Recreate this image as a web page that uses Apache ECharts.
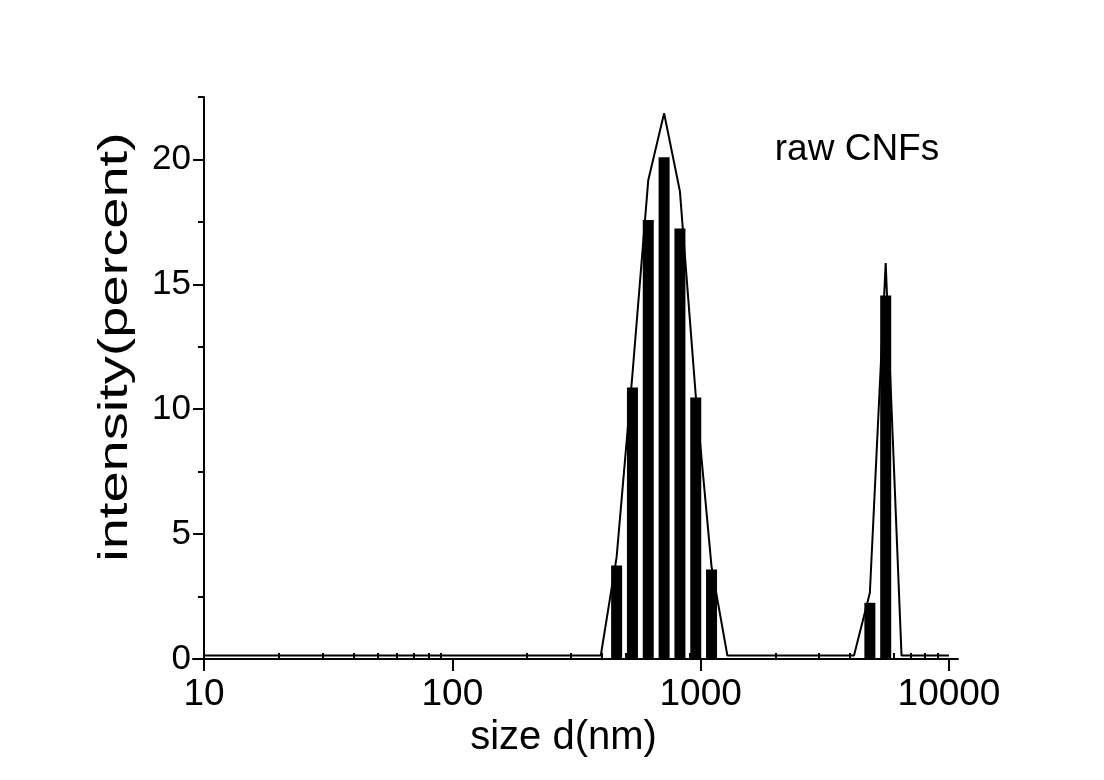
<!DOCTYPE html>
<html>
<head>
<meta charset="utf-8">
<title>raw CNFs</title>
<style>
  html, body {
    margin: 0;
    padding: 0;
    background-color: white;
  }
  #myChart {
    width: 1104px;
    height: 780px;
  }
</style>
<script src="https://cdn.jsdelivr.net/npm/echarts@6/dist/echarts.min.js"></script>
</head>
<body>
<div id="myChart"></div>
<script>
  // bar bins (nm) and their intensity
  let barSizes = [458.7, 531.2, 615.1, 712.4, 825.0, 955.4, 1106, 4801, 5560]
  let barValues = [3.74, 10.87, 17.58, 20.09, 17.24, 10.47, 3.58, 2.25, 14.55]
  // envelope line
  let lineSizes = [10, 396.1, 458.7, 531.2, 615.1, 712.4, 825.0, 955.4, 1106, 1281, 4145, 4801, 5560, 6439, 10000]
  let lineValues = [0.14, 0.14, 4.08, 11.4, 19.17, 21.85, 18.72, 10.55, 3.7, 0.14, 0.14, 2.65, 15.85, 0.14, 0.14]
  // ticks
  let xMajor = [10, 100, 1000, 10000]
  let xMinor = [20, 30, 40, 50, 60, 70, 80, 90, 200, 300, 400, 500, 600, 700, 800, 900,
    2000, 3000, 4000, 5000, 6000, 7000, 8000, 9000]
  let yMajor = [0, 5, 10, 15, 20]
  let yMinor = [2.5, 7.5, 12.5, 17.5, 22.5]

  let font = 'Liberation Sans, Arial, sans-serif'
  let myChart = echarts.init(document.getElementById('myChart'))

  let barData = barSizes.map((s, i) => [s, barValues[i]])
  let lineData = lineSizes.map((s, i) => [s, lineValues[i]])

  let xBase = { type: 'log', logBase: 10, min: 9.03, max: 10870, splitLine: { show: false } }
  let yBase = { type: 'value', min: -0.44, max: 22.5, offset: -11, splitLine: { show: false } }

  myChart.setOption({
    backgroundColor: '#fff',
    animation: false,
    grid: { left: 193, right: 146, top: 97, bottom: 110 },
    xAxis: [
      Object.assign({}, xBase, {
        name: 'size d(nm)',
        nameLocation: 'middle',
        nameGap: 47,
        nameTextStyle: { color: '#000', fontSize: 40, fontFamily: font, padding: [0, 24, 0, 0] },
        axisLine: { show: true, onZero: true, lineStyle: { color: '#000', width: 2 } },
        axisTick: { show: true, customValues: xMajor, length: 12, lineStyle: { color: '#000', width: 2 } },
        axisLabel: {
          customValues: xMajor, color: '#000', fontSize: 37, fontFamily: font, margin: 6,
          formatter: v => String(v)
        }
      }),
      Object.assign({}, xBase, {
        // minor ticks only
        axisLine: { show: true, onZero: true, lineStyle: { color: 'rgba(0,0,0,0)', width: 0 } },
        axisTick: { show: true, customValues: xMinor, length: 6, lineStyle: { color: '#000', width: 2 } },
        axisLabel: { show: false }
      })
    ],
    yAxis: [
      Object.assign({}, yBase, {
        axisLine: { show: true, lineStyle: { color: '#000', width: 2 } },
        axisTick: { show: true, customValues: yMajor, length: 11, lineStyle: { color: '#000', width: 2 } },
        axisLabel: { customValues: yMajor, color: '#000', fontSize: 35, fontFamily: font, margin: 13 }
      }),
      Object.assign({}, yBase, {
        position: 'left',
        axisLine: { show: false },
        axisTick: { show: true, customValues: yMinor, length: 6, lineStyle: { color: '#000', width: 2 } },
        axisLabel: { show: false }
      })
    ],
    graphic: [
      {
        type: 'text',
        x: 857,
        y: 150,
        style: {
          text: 'raw CNFs',
          fill: '#000',
          fontSize: 37,
          fontFamily: font,
          textAlign: 'center',
          textVerticalAlign: 'middle'
        }
      },
      {
        // y axis title, drawn a bit stretched like the original
        type: 'text',
        x: 116,
        y: 347,
        rotation: Math.PI / 2,
        scaleX: 1.4,
        style: {
          text: 'intensity(percent)',
          fill: '#000',
          fontSize: 40,
          fontFamily: font,
          textAlign: 'center',
          textVerticalAlign: 'middle'
        }
      }
    ],
    series: [
      {
        name: 'bars',
        type: 'custom',
        xAxisIndex: 0,
        yAxisIndex: 0,
        encode: { x: 0, y: 1 },
        data: barData,
        renderItem: function (params, api) {
          let p0 = api.coord([api.value(0), 0])
          let p1 = api.coord([api.value(0), api.value(1)])
          return {
            type: 'rect',
            shape: { x: p0[0] - 5.5, y: p1[1], width: 11, height: p0[1] - p1[1] },
            style: { fill: '#000' }
          }
        },
        z: 2
      },
      {
        name: 'line',
        type: 'line',
        xAxisIndex: 0,
        yAxisIndex: 0,
        data: lineData,
        symbol: 'none',
        lineStyle: { color: '#000', width: 2 },
        z: 3
      }
    ]
  })
</script>
</body>
</html>
